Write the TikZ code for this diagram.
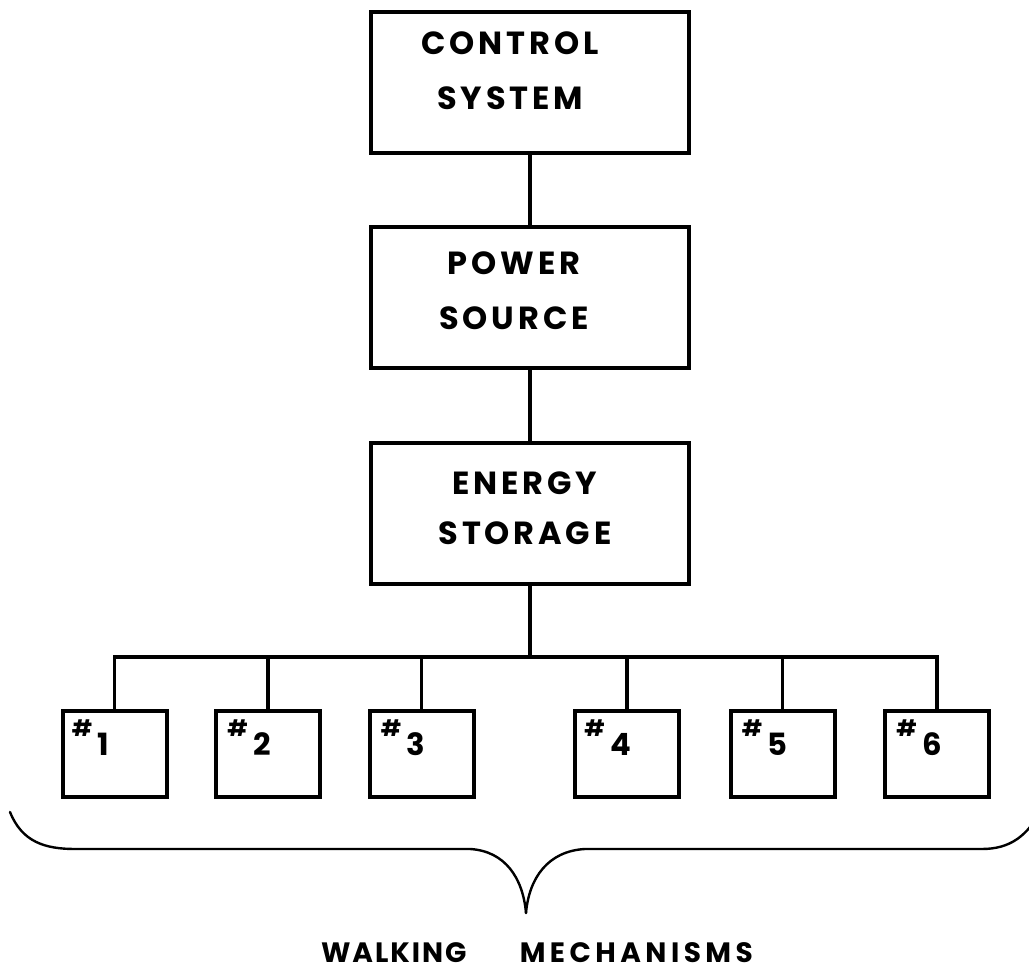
\documentclass[tikz,border=0pt]{standalone}
\usepackage{fontspec}
\setmainfont{Poppins}
\usetikzlibrary{calc}
\begin{document}
\begin{tikzpicture}[x=0.75pt,y=-0.75pt,
  bigbox/.style={draw,line width=3pt,minimum width=238.5pt,minimum height=105.75pt,inner sep=0pt},
  legbox/.style={draw,line width=3pt,minimum width=78pt,minimum height=64.5pt,inner sep=0pt},
  lbl/.style={font=\fontsize{24}{41}\selectfont\bfseries\addfontfeature{LetterSpace=12},align=center,inner sep=0pt},
  numlbl/.style={font=\bfseries,inner sep=0pt,anchor=base west},
  conn/.style={line width=2.3pt},
  brace/.style={line width=1.8pt,line cap=round}]
\useasboundingbox (0,0) rectangle (1029,973);

% main boxes
\node[bigbox] (ctrl) at (530,82.5) {};
\node[bigbox] (power) at (530,297.5) {};
\node[bigbox] (energy) at (530,514) {};

\node[lbl] (ctrlt) at (510,71) {CONTROL\\SYSTEM};
\node[lbl] (powert) at (514,291) {POWER\\SOURCE};
\node[lbl,font=\fontsize{24}{37.5}\selectfont\bfseries\addfontfeature{LetterSpace=12}] (energyt) at (525,508) {ENERGY\\STORAGE};

% walking mechanism boxes
\node[legbox] (m1) at (114.5,754) {};
\node[legbox] (m2) at (268,754) {};
\node[legbox] (m3) at (421.5,754) {};
\node[legbox] (m4) at (627,754) {};
\node[legbox] (m5) at (782.5,754) {};
\node[legbox] (m6) at (937,754) {};

\newcommand{\mechlabel}[1]{\raisebox{14pt}{\fontsize{17}{17}\selectfont\#}\hspace{4pt}{\fontsize{23}{23}\selectfont #1}}
\node[numlbl] (l1) at ($(m1.north west)+(11,46)$) {\mechlabel{1}};
\node[numlbl] (l2) at ($(m2.north west)+(13,46)$) {\mechlabel{2}};
\node[numlbl] (l3) at ($(m3.north west)+(13,46)$) {\mechlabel{3}};
\node[numlbl] (l4) at ($(m4.north west)+(11,46)$) {\mechlabel{4}};
\node[numlbl] (l5) at ($(m5.north west)+(13,46)$) {\mechlabel{5}};
\node[numlbl] (l6) at ($(m6.north west)+(13,46)$) {\mechlabel{6}};

% connectors
\draw[conn] (ctrl) -- (power);
\draw[conn] (power) -- (energy);
\coordinate (bus) at (530,657);
\draw[conn] (energy) -- (bus);
\draw[conn] (m1.north) |- (bus) -| (m6.north);
\draw[conn] (m2.north) -- (m2.north |- bus);
\draw[conn] (m3.north) -- (m3.north |- bus);
\draw[conn] (m4.north) -- (m4.north |- bus);
\draw[conn] (m5.north) -- (m5.north |- bus);

% brace
\coordinate (bl) at (10,812);
\coordinate (tip) at (526,913);
\coordinate (br) at (1042,808);
\draw[brace] (bl) .. controls (22,842) and (45,849) .. (75,849) -- (470,849) .. controls (505,851) and (523,878) .. (tip);
\draw[brace] (tip) .. controls (529,878) and (548,851) .. (585,849) -- (982,849) .. controls (1010,849) and (1028,836) .. (br);

\node[font=\fontsize{21}{21}\selectfont\bfseries,anchor=base,inner sep=0pt] (walk) at (537,962)
  {{\addfontfeature{LetterSpace=7}WALKING}\hspace{40pt}{\addfontfeature{LetterSpace=16}MECHANISMS}};
\end{tikzpicture}
\end{document}
